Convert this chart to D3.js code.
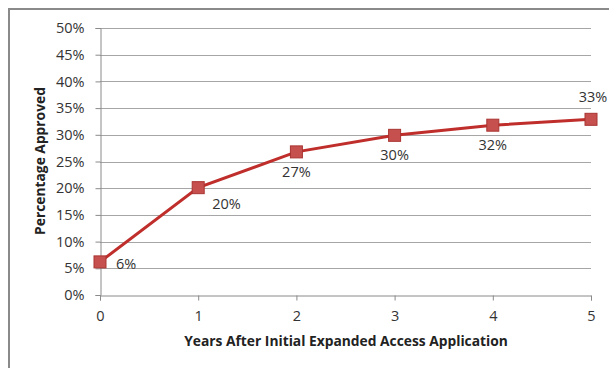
<!DOCTYPE html>
<html><head><meta charset="utf-8">
<script src="https://cdn.jsdelivr.net/npm/d3@7"></script>
<style>body{margin:0;background:#fff}svg{display:block}</style>
</head><body>
<script>
const years = [0, 1, 2, 3, 4, 5];
const approved = [6.2, 20.1, 26.8, 29.9, 31.8, 32.9];
const pointLabels = ["6%", "20%", "27%", "30%", "32%", "33%"];
const yTicks = [0, 5, 10, 15, 20, 25, 30, 35, 40, 45, 50];
const xTitle = "Years After Initial Expanded Access Application";
const yTitle = "Percentage Approved";

const W = 609, H = 368;
const svg = d3.select("body").append("svg").attr("width", W).attr("height", H);
const font = "'Open Sans', sans-serif";

// outer border
svg.append("rect").attr("x", 9).attr("y", 9).attr("width", W + 10).attr("height", H + 10)
  .attr("fill", "none").attr("stroke", "#8a8a8a").attr("stroke-width", 2);

const x = d3.scaleLinear().domain([0, 5]).range([100, 591]);
const y = d3.scaleLinear().domain([0, 50]).range([295, 28]);

// gridlines
svg.append("g").selectAll("line").data(yTicks.filter(d => d > 0)).join("line")
  .attr("x1", 100).attr("x2", 591)
  .attr("y1", d => Math.round(y(d)) + 0.5).attr("y2", d => Math.round(y(d)) + 0.5)
  .attr("stroke", "#a6a6a6").attr("stroke-width", 1);

// y axis
const ya = svg.append("g").attr("transform", "translate(100.5,0)")
  .call(d3.axisLeft(y).tickValues(yTicks).tickFormat(d => d + "%").tickSize(5).tickPadding(11)
    .offset(0.5));
ya.select(".domain").attr("stroke", "#8a8a8a");
ya.selectAll(".tick line").attr("stroke", "#8a8a8a");
ya.selectAll("text").attr("font-family", font).attr("font-size", 14.5).attr("fill", "#333");

// x axis
const xa = svg.append("g").attr("transform", "translate(0,295.5)")
  .call(d3.axisBottom(x).tickValues(years).tickFormat(d3.format("d")).tickSize(5).tickPadding(10));
xa.select(".domain").attr("stroke", "#8a8a8a");
xa.selectAll(".tick line").attr("stroke", "#8a8a8a");
xa.selectAll("text").attr("font-family", font).attr("font-size", 14.5).attr("fill", "#333");

// line
svg.append("path").datum(years.map((d, i) => [d, approved[i]]))
  .attr("fill", "none").attr("stroke", "#bf2e2b").attr("stroke-width", 3)
  .attr("d", d3.line().x(d => x(d[0])).y(d => y(d[1])));

// markers
const ms = 12;
svg.append("g").selectAll("rect").data(years).join("rect")
  .attr("x", d => x(d) - ms / 2).attr("y", (d, i) => y(approved[i]) - ms / 2)
  .attr("width", ms).attr("height", ms)
  .attr("fill", "#c6504e").attr("stroke", "#a83431").attr("stroke-width", 1);

// data labels
function labelPos(i) {
  if (i === 0) return { dx: 16, dy: 7, anchor: "start" };
  if (i === 1) return { dx: 14, dy: 21, anchor: "start" };
  if (i === 5) return { dx: 2, dy: -17, anchor: "middle" };
  return { dx: 0, dy: 25, anchor: "middle" };
}
svg.append("g").selectAll("text").data(years).join("text")
  .attr("x", (d, i) => x(d) + labelPos(i).dx)
  .attr("y", (d, i) => y(approved[i]) + labelPos(i).dy)
  .attr("text-anchor", (d, i) => labelPos(i).anchor)
  .attr("font-family", font).attr("font-size", 14.5).attr("fill", "#333")
  .text((d, i) => pointLabels[i]);

// titles
svg.append("text").attr("x", 346).attr("y", 346).attr("text-anchor", "middle")
  .attr("font-family", font).attr("font-weight", "bold").attr("font-size", 13.8).attr("fill", "#222")
  .text(xTitle);
svg.append("text").attr("transform", "translate(45,161) rotate(-90)").attr("text-anchor", "middle")
  .attr("font-family", font).attr("font-weight", "bold").attr("font-size", 13.8).attr("fill", "#222")
  .text(yTitle);
</script>
</body></html>
